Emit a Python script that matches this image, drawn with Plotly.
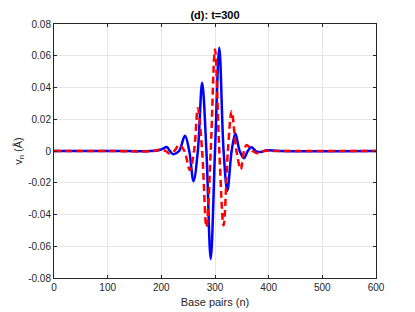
import plotly.graph_objects as go

# blue solid series: extrema and zero crossings
n_blue = [0, 100, 180, 195, 203, 210, 216, 222, 233, 244, 252, 260, 268, 276, 284, 292,
          300, 308, 316, 323, 331, 338, 346, 354, 361, 368, 376, 384, 395, 420, 600]
v_blue = [0, 0, 0, 0.0005, 0.0015, 0.0025, 0, -0.002, 0, 0.0096, 0, -0.019, 0, 0.043, 0, -0.068,
          0, 0.065, 0, -0.025, 0, 0.011, 0, -0.0046, 0, 0.0023, 0, -0.0007, 0.0004, 0, 0]

# red dashed series
n_red = [0, 100, 185, 200, 208, 215, 224, 233, 243, 253, 261, 268, 276, 284, 292,
         300, 308, 316, 324, 331, 340, 348, 354, 359, 370, 381, 392, 410, 600]
v_red = [0, 0, 0, 0.001, 0, -0.0015, 0, 0.0038, 0, -0.012, 0, 0.027, 0, -0.048, 0,
         0.064, 0, -0.047, 0, 0.025, 0, -0.0115, 0, 0.0038, 0, -0.0015, 0, 0, 0]

x_ticks = [0, 100, 200, 300, 400, 500, 600]
y_ticks = [-0.08, -0.06, -0.04, -0.02, 0, 0.02, 0.04, 0.06, 0.08]
y_ticktext = ['-0.08', '-0.06', '-0.04', '-0.02', '0', '0.02', '0.04', '0.06', '0.08']

FONT = 'Liberation Sans, Arial, sans-serif'
AX = '#262626'

fig = go.Figure()
fig.add_trace(go.Scatter(
    x=n_blue, y=v_blue, mode='lines',
    line={'color': '#0000FF', 'width': 2.5, 'shape': 'spline', 'smoothing': 1.0},
    showlegend=False
))
fig.add_trace(go.Scatter(
    x=n_red, y=v_red, mode='lines',
    line={'color': '#FF0000', 'width': 2.5, 'dash': '7px,4px', 'shape': 'spline', 'smoothing': 1.0},
    showlegend=False
))

axis_common = dict(
    showline=True, linecolor=AX, linewidth=1, mirror='ticks',
    ticks='inside', ticklen=3, tickcolor=AX,
    showgrid=True, gridcolor='#E6E6E6', gridwidth=1, zeroline=False,
    tickfont={'size': 10, 'color': AX, 'family': FONT},
    automargin=False,
)

fig.update_xaxes(
    range=[0, 600], tickvals=x_ticks,
    title={'text': 'Base pairs (n)', 'font': {'size': 11, 'color': AX, 'family': FONT}, 'standoff': 6},
    **axis_common
)
fig.update_yaxes(
    range=[-0.08, 0.08], tickvals=y_ticks, ticktext=y_ticktext,
    title={'text': 'v<sub>n</sub> (Å)', 'font': {'size': 11, 'color': AX, 'family': FONT}, 'standoff': 3},
    **axis_common
)

# page body has an 8px margin, so the figure is sized/offset to compensate
fig.update_layout(
    width=407, height=304,
    title={'text': '<b>(d): t=300</b>', 'font': {'size': 11, 'color': '#000000', 'family': FONT},
           'x': 0.5, 'xanchor': 'center', 'xref': 'paper', 'y': 0.978, 'yanchor': 'middle'},
    plot_bgcolor='white', paper_bgcolor='white',
    margin={'l': 46, 'r': 39, 't': 16, 'b': 34},
)

fig.write_html("out.html")
